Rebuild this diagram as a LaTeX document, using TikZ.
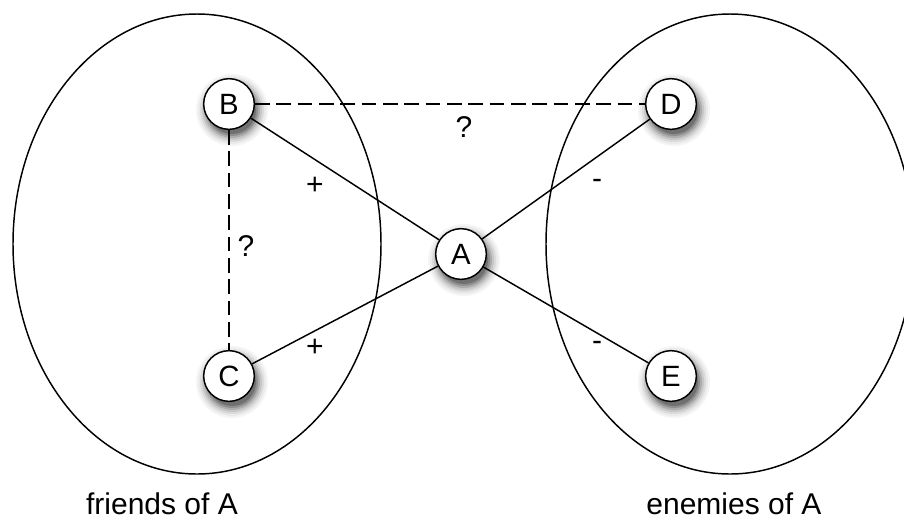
\documentclass[tikz,border=0pt]{standalone}
\usepackage{fontspec}
\setmainfont{Liberation Sans}

\tikzset{every picture/.style={line width=0.75pt}}
\pgfdeclarelayer{background}
\pgfsetlayers{background,main}

\begin{document}
\begin{tikzpicture}[x=0.75pt,y=0.75pt,yscale=-1,xscale=1,
  person/.style={circle, draw, fill=white, line width=1.1pt, minimum size=38pt, inner sep=0pt,
    font=\fontsize{22}{26}\selectfont},
  group/.style={draw, line width=1.1pt},
  tie/.style={line width=1.1pt},
  unknown/.style={line width=1.1pt, dash pattern=on 11pt off 5pt},
  sign/.style={inner sep=0.75pt, font=\fontsize{22.5}{27}\selectfont}]
%set diagram size to 904 x 519
\useasboundingbox (0,0) rectangle (904,519);
\clip (0,0) rectangle (904,519);

%Shape: Ellipse [id:friends]
\draw[group] (197,244) ellipse [x radius=184, y radius=230];
%Shape: Ellipse [id:enemies]
\draw[group] (730,244) ellipse [x radius=184, y radius=230];

% Nodes
\node[person] (A) at (461,254) {A};
\node[person] (B) at (229,104) {B};
\node[person] (C) at (229,376) {C};
\node[person] (D) at (671,104) {D};
\node[person] (E) at (671,376) {E};

% soft shadows under the nodes
\begin{pgfonlayer}{background}
\foreach \n in {A,B,C,D,E}
  \foreach \r/\c in {36/4,34/8,32/14,30/22,28/32,26/44,24/56}
    \fill[black!\c] ([shift={(3,6)}]\n.center) circle (\r);
\end{pgfonlayer}

% Ties
\draw[unknown] (B) -- (D);
\draw[unknown] (B) -- (C);
\draw[tie] (B) -- (A);
\draw[tie] (C) -- (A);
\draw[tie] (A) -- (D);
\draw[tie] (A) -- (E);

% Text Node
\node[sign] (qBD) at (464,127) {?};
% Text Node
\node[sign] (qBC) at (246,246) {?};
% Text Node
\node[sign] (pB) at (315,186) {+};
% Text Node
\node[sign] (pC) at (315,348) {+};
% Text Node
\node[sign] (mD) at (597,184) {-};
% Text Node
\node[sign] (mE) at (597,346) {-};

% Text Node
\node[sign, anchor=base] (friends) at (162,514) {friends of A};
% Text Node
\node[sign, anchor=base] (enemies) at (734,514) {enemies of A};

\end{tikzpicture}
\end{document}
